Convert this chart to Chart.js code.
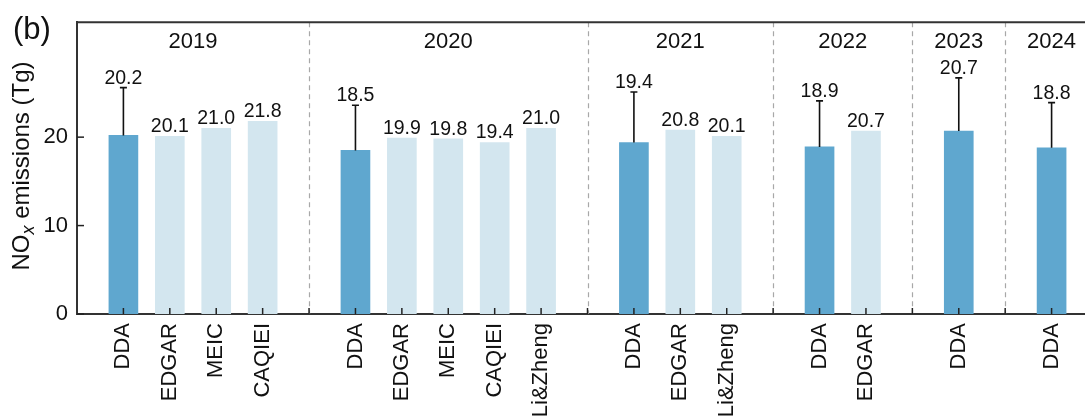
<!DOCTYPE html>
<html>
<head>
<meta charset="utf-8">
<script src="https://cdn.jsdelivr.net/npm/chart.js@4"></script>
<style>
  html, body { margin: 0; padding: 0; background: #fff; overflow: hidden; }
  #wrap { width: 1085px; height: 420px; overflow: hidden; }
  canvas { display: block; }
</style>
</head>
<body>
<div id="wrap"><canvas id="chart" width="1110" height="420"></canvas></div>
<script>
"use strict";
// data
const years = ['2019', '2019', '2019', '2019',
    '2020', '2020', '2020', '2020', '2020',
    '2021', '2021', '2021',
    '2022', '2022',
    '2023',
    '2024'];
const sources = ['DDA', 'EDGAR', 'MEIC', 'CAQIEI',
    'DDA', 'EDGAR', 'MEIC', 'CAQIEI', 'Li&Zheng',
    'DDA', 'EDGAR', 'Li&Zheng',
    'DDA', 'EDGAR',
    'DDA',
    'DDA'];
const emissions = [20.2, 20.1, 21.0, 21.8,
    18.5, 19.9, 19.8, 19.4, 21.0,
    19.4, 20.8, 20.1,
    18.9, 20.7,
    20.7,
    18.8];
// upper end of the error bar (DDA only)
const errorTop = [25.6, null, null, null,
    23.6, null, null, null, null,
    25.1, null, null,
    24.1, null,
    26.7,
    23.9];
const yTicks = [0, 10, 20];

const DARK = '#5fa7cf';
const LIGHT = '#d3e6ef';
const FONT = '"Liberation Sans", Arial, sans-serif';

// slot positions: one empty slot between year groups
let slots = [];
let dividers = [];
let groups = [];
let pos = 0;
years.forEach((yr, i) => {
    if (i > 0 && yr !== years[i - 1]) {
        dividers.push(pos);
        pos++;
    }
    slots.push(pos);
    let g = groups[groups.length - 1];
    if (!g || g.year !== yr) {
        groups.push({ year: yr, first: pos, last: pos });
    } else {
        g.last = pos;
    }
    pos++;
});
let slotLabels = {};
slots.forEach((s, i) => slotLabels[s] = sources[i]);
let allTicks = slots.concat(dividers).sort((a, b) => a - b);

let points = slots.map((s, i) => ({ x: s, y: emissions[i] }));
let colors = sources.map(s => s === 'DDA' ? DARK : LIGHT);

const decorations = {
    id: 'decorations',
    beforeDatasetsDraw(chart) {
        let ctx = chart.ctx;
        let area = chart.chartArea;
        let xs = chart.scales.x;
        ctx.save();
        ctx.strokeStyle = '#a8a8a8';
        ctx.lineWidth = 1.2;
        ctx.setLineDash([5, 4]);
        dividers.forEach(d => {
            let px = Math.round(xs.getPixelForValue(d)) + 0.5;
            ctx.beginPath();
            ctx.moveTo(px, area.top);
            ctx.lineTo(px, area.bottom);
            ctx.stroke();
        });
        ctx.restore();
    },
    afterDatasetsDraw(chart) {
        let ctx = chart.ctx;
        let area = chart.chartArea;
        let xs = chart.scales.x;
        let ys = chart.scales.y;
        ctx.save();

        // top frame line
        ctx.strokeStyle = '#333';
        ctx.lineWidth = 2;
        ctx.beginPath();
        ctx.moveTo(area.left, area.top);
        ctx.lineTo(area.right, area.top);
        ctx.stroke();

        // inward ticks
        ctx.lineWidth = 1.5;
        ctx.strokeStyle = '#222';
        allTicks.forEach(t => {
            let px = xs.getPixelForValue(t);
            ctx.beginPath();
            ctx.moveTo(px, area.bottom);
            ctx.lineTo(px, area.bottom - 6);
            ctx.stroke();
        });
        yTicks.forEach(t => {
            let py = ys.getPixelForValue(t);
            ctx.beginPath();
            ctx.moveTo(area.left, py);
            ctx.lineTo(area.left + 7, py);
            ctx.stroke();
        });

        // error bars
        ctx.strokeStyle = '#111';
        ctx.lineWidth = 1.6;
        errorTop.forEach((e, i) => {
            if (e === null) return;
            let px = xs.getPixelForValue(slots[i]);
            let y0 = ys.getPixelForValue(emissions[i]);
            let y1 = ys.getPixelForValue(e);
            ctx.beginPath();
            ctx.moveTo(px, y0);
            ctx.lineTo(px, y1);
            ctx.moveTo(px - 3.5, y1);
            ctx.lineTo(px + 3.5, y1);
            ctx.stroke();
        });

        // value labels
        ctx.fillStyle = '#111';
        ctx.font = '19.5px ' + FONT;
        ctx.textAlign = 'center';
        ctx.textBaseline = 'alphabetic';
        emissions.forEach((v, i) => {
            let px = xs.getPixelForValue(slots[i]);
            let top = errorTop[i] !== null ? errorTop[i] : v;
            let py = ys.getPixelForValue(top) - 4;
            ctx.fillText(v.toFixed(1), px, py);
        });

        // year labels
        ctx.font = '22px ' + FONT;
        ctx.textBaseline = 'middle';
        groups.forEach(g => {
            let px = xs.getPixelForValue((g.first + g.last) / 2);
            ctx.fillText(g.year, px, area.top + 20);
        });

        // panel letter
        ctx.font = '31px ' + FONT;
        ctx.textAlign = 'left';
        ctx.fillText('(b)', 13, 30);

        // y axis title with subscript
        let cy = 166;
        ctx.translate(22, cy);
        ctx.rotate(-Math.PI / 2);
        let big = '24px ' + FONT;
        let small = 'italic 18px ' + FONT;
        ctx.font = big;
        let w1 = ctx.measureText('NO').width;
        let w3 = ctx.measureText(' emissions (Tg)').width;
        ctx.font = small;
        let w2 = ctx.measureText('x').width;
        let x0 = -(w1 + w2 + w3) / 2;
        ctx.textBaseline = 'middle';
        ctx.font = big;
        ctx.fillText('NO', x0, 0);
        ctx.font = small;
        ctx.fillText('x', x0 + w1, 7);
        ctx.font = big;
        ctx.fillText(' emissions (Tg)', x0 + w1 + w2, 0);
        ctx.restore();
    }
};

let canvas = document.getElementById('chart');
let chart = new Chart(canvas.getContext('2d'), {
    type: 'bar',
    data: {
        datasets: [{
            data: points,
            backgroundColor: colors,
            borderWidth: 0,
            barThickness: 29
        }]
    },
    options: {
        responsive: false,
        animation: false,
        layout: { padding: { top: 21, right: 12, left: 0, bottom: 0 } },
        plugins: {
            legend: { display: false },
            tooltip: { enabled: false }
        },
        scales: {
            x: {
                type: 'linear',
                min: -1,
                max: 21,
                offset: false,
                afterBuildTicks: scale => {
                    scale.ticks = slots.map(v => ({ value: v }));
                },
                afterFit: scale => { scale.height = 106; },
                grid: { display: true, drawOnChartArea: false, drawTicks: false, lineWidth: 0, offset: false },
                border: { display: true, color: '#333', width: 2 },
                ticks: {
                    autoSkip: false,
                    maxRotation: 90,
                    minRotation: 90,
                    padding: 9,
                    color: '#111',
                    font: { size: 22, family: FONT },
                    callback: value => slotLabels[value] || ''
                }
            },
            y: {
                min: 0,
                max: 33,
                afterBuildTicks: scale => {
                    scale.ticks = yTicks.map(v => ({ value: v }));
                },
                afterFit: scale => { scale.width = 77; },
                grid: { display: true, drawOnChartArea: false, drawTicks: false, lineWidth: 0 },
                border: { display: true, color: '#333', width: 2 },
                ticks: {
                    padding: 9,
                    color: '#111',
                    font: { size: 22, family: FONT }
                }
            }
        }
    },
    plugins: [decorations]
});
</script>
</body>
</html>
